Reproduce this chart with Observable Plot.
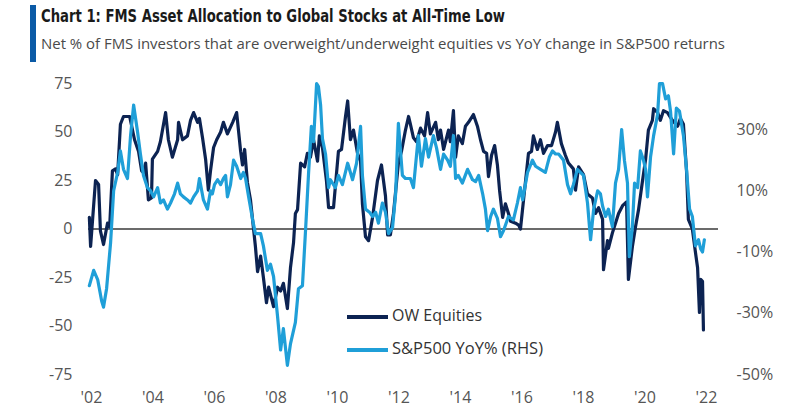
<!DOCTYPE html>
<html>
<head>
<meta charset="utf-8">
<script src="https://cdn.jsdelivr.net/npm/d3@7"></script>
<script src="https://cdn.jsdelivr.net/npm/@observablehq/plot@0.6"></script>
<style>
  body { margin: 0; background: #fff; }
  #wrap { position: relative; width: 793px; height: 415px; overflow: hidden; font-family: "Open Sans", sans-serif; }
  #head { position: relative; height: 62px; }
  #bar { position: absolute; left: 30px; top: 5px; width: 6px; height: 57px; background: #0b5aa6; }
  #title { position: absolute; left: 41px; top: 6px; font-weight: bold; font-size: 17px; font-family: "Liberation Sans Narrow", "DejaVu Sans Condensed", sans-serif; color: #1a1a1a; white-space: nowrap; transform-origin: 0 0; line-height: 20px; }
  #subtitle { position: absolute; left: 41px; top: 33px; font-size: 15px; font-family: "Open Sans", sans-serif; color: #4a4a4a; white-space: nowrap; transform-origin: 0 0; line-height: 20px; }
  .legline { position: absolute; height: 4px; width: 41px; left: 347px; }
  .legtext { position: absolute; left: 392px; font-size: 17px; font-family: "Open Sans", sans-serif; color: #333; white-space: nowrap; transform-origin: 0 0; line-height: 20px; }
  svg { display: block; }
</style>
</head>
<body>
<div id="wrap">
  <div id="head">
    <div id="bar"></div>
    <div id="title">Chart 1: FMS Asset Allocation to Global Stocks at All-Time Low</div>
    <div id="subtitle">Net % of FMS investors that are overweight/underweight equities vs YoY change in S&amp;P500 returns</div>
  </div>
  <div id="chart"></div>
  <div class="legline" id="leg1" style="top:315px;"></div>
  <div class="legtext" id="legt1" style="top:305px;">OW Equities</div>
  <div class="legline" id="leg2" style="top:348px;"></div>
  <div class="legtext" id="legt2" style="top:338px;">S&amp;P500 YoY% (RHS)</div>
</div>
<script>
// ---- data (decimal year as placed on the chart's x axis, value) ----
const owEquities = [
  [2001.93,6],[2001.97,-9],[2002.13,25],[2002.23,23],[2002.29,-1],[2002.39,-8],[2002.52,3],[2002.59,1],
  [2002.68,30],[2002.78,31],[2002.85,28],[2002.94,54],[2003.04,58],[2003.24,58],[2003.40,46],[2003.53,40],
  [2003.63,30],[2003.69,29],[2003.76,34],[2003.85,15],[2003.95,16],[2003.98,36],[2004.15,40],[2004.24,45],
  [2004.41,60],[2004.50,46],[2004.63,37],[2004.80,46],[2004.83,55],[2004.96,46],[2005.12,48],[2005.22,56],
  [2005.32,60],[2005.45,55],[2005.51,57],[2005.61,47],[2005.71,36],[2005.80,20],[2005.87,30],[2005.97,42],
  [2006.07,46],[2006.20,50],[2006.29,55],[2006.42,49],[2006.59,55],[2006.72,60],[2006.85,40],[2006.91,33],
  [2006.98,41],[2007.07,24],[2007.17,15],[2007.27,0],[2007.33,-9],[2007.40,-22],[2007.50,-14],[2007.59,-25],
  [2007.69,-38],[2007.76,-30],[2007.92,-40],[2008.05,-30],[2008.15,-32],[2008.24,-28],[2008.37,-41],[2008.47,-20],
  [2008.57,-7],[2008.63,8],[2008.70,10],[2008.80,34],[2008.93,32],[2009.02,39],[2009.12,37],[2009.22,46],
  [2009.35,35],[2009.41,48],[2009.51,42],[2009.64,25],[2009.71,11],[2009.87,11],[2010.03,40],[2010.13,41],
  [2010.26,58],[2010.33,66],[2010.42,46],[2010.52,51],[2010.65,39],[2010.75,35],[2010.81,13],[2010.91,-4],
  [2011.01,-6],[2011.14,6],[2011.30,25],[2011.43,33],[2011.56,17],[2011.63,-3],[2011.72,-3],[2011.82,8],
  [2011.98,34],[2012.08,40],[2012.21,51],[2012.31,58],[2012.37,54],[2012.47,47],[2012.57,45],[2012.70,52],
  [2012.83,48],[2012.93,60],[2013.02,49],[2013.19,55],[2013.28,46],[2013.35,51],[2013.45,41],[2013.61,51],
  [2013.67,45],[2013.77,61],[2013.84,37],[2013.93,48],[2014.06,44],[2014.16,53],[2014.26,55],[2014.42,59],
  [2014.55,53],[2014.65,46],[2014.75,40],[2014.85,39],[2014.91,27],[2015.01,38],[2015.11,43],[2015.20,33],
  [2015.27,20],[2015.37,6],[2015.46,13],[2015.56,8],[2015.63,4],[2015.79,3],[2015.89,2],[2015.95,0],
  [2016.05,15],[2016.21,39],[2016.31,40],[2016.37,48],[2016.50,41],[2016.60,46],[2016.70,39],[2016.83,43],
  [2016.96,43],[2017.09,50],[2017.15,55],[2017.28,44],[2017.41,38],[2017.51,34],[2017.67,31],[2017.74,20],
  [2017.84,32],[2018.00,28],[2018.13,18],[2018.29,16],[2018.39,8],[2018.49,11],[2018.62,5],[2018.65,-21],
  [2018.78,-6],[2018.81,-10],[2018.94,-2],[2019.04,3],[2019.14,8],[2019.27,12],[2019.40,14],[2019.46,-26],
  [2019.59,-9],[2019.69,1],[2019.79,10],[2019.92,25],[2020.02,36],[2020.11,51],[2020.24,56],[2020.28,62],
  [2020.41,60],[2020.50,56],[2020.60,61],[2020.73,60],[2020.89,56],[2021.06,53],[2021.15,57],[2021.25,54],
  [2021.35,30],[2021.41,5],[2021.54,0],[2021.64,-12],[2021.71,-20],[2021.77,-43],[2021.81,-26],[2021.87,-27],
  [2021.90,-52]
];

const sp500YoY = [
  [2001.93,-21],[2002.07,-16],[2002.20,-19],[2002.33,-26],[2002.39,-28],[2002.49,-22],[2002.62,-7],[2002.72,10],
  [2002.85,16],[2002.94,23],[2003.04,17],[2003.17,14],[2003.27,28],[2003.37,38],[2003.50,29],[2003.59,22],
  [2003.69,15],[2003.82,11],[2003.92,10],[2004.02,8],[2004.15,11],[2004.24,6],[2004.34,7],[2004.47,4],
  [2004.57,6],[2004.70,9],[2004.80,12.5],[2004.89,9],[2004.99,8],[2005.12,7],[2005.22,6],[2005.32,8],
  [2005.45,10],[2005.51,14],[2005.64,7],[2005.77,4],[2005.87,10],[2005.93,9],[2006.00,12],[2006.10,13.6],
  [2006.20,12],[2006.29,14],[2006.36,15],[2006.42,8],[2006.52,12],[2006.62,20],[2006.72,18],[2006.85,14],
  [2006.94,16],[2007.01,14],[2007.11,8],[2007.24,0.5],[2007.33,-4],[2007.50,-4],[2007.59,-8],[2007.72,-16],
  [2007.82,-14],[2007.92,-18],[2008.05,-31],[2008.15,-42],[2008.24,-35],[2008.37,-47],[2008.47,-40],[2008.63,-33],
  [2008.73,-22],[2008.86,-21],[2008.96,-3],[2009.06,16],[2009.15,31],[2009.22,26],[2009.32,45],[2009.38,44],
  [2009.45,38],[2009.51,27],[2009.61,22],[2009.71,11],[2009.77,13.6],[2009.93,11],[2010.03,15],[2010.16,12],
  [2010.33,19],[2010.49,13.6],[2010.62,19],[2010.75,31],[2010.81,15],[2010.91,4],[2011.04,3],[2011.14,1.6],
  [2011.24,3],[2011.33,-0.6],[2011.46,6],[2011.56,3],[2011.66,-4],[2011.79,-2],[2011.89,9],[2011.98,32],
  [2012.11,15],[2012.21,14],[2012.37,14],[2012.47,11],[2012.63,28],[2012.73,18],[2012.86,27],[2012.96,21],
  [2013.12,28],[2013.22,24],[2013.35,17],[2013.45,22],[2013.58,20],[2013.67,18],[2013.77,28],[2013.84,14],
  [2013.93,15],[2014.06,12.5],[2014.23,17],[2014.39,13.6],[2014.49,13],[2014.59,15],[2014.72,9],[2014.81,4],
  [2014.88,-3],[2014.98,1.6],[2015.07,4],[2015.20,1],[2015.30,-5],[2015.40,-3],[2015.56,1.6],[2015.72,0.5],
  [2015.85,6],[2015.95,11],[2016.02,7],[2016.18,16],[2016.34,20],[2016.44,18],[2016.60,17],[2016.76,16],
  [2016.89,21],[2016.99,23],[2017.09,22],[2017.19,22],[2017.35,20],[2017.48,12],[2017.58,9],[2017.67,12],
  [2017.80,17],[2017.90,16],[2018.00,15],[2018.13,6],[2018.23,-6],[2018.33,4],[2018.46,10],[2018.55,9],
  [2018.62,5],[2018.72,1.6],[2018.81,4],[2018.94,-1.7],[2019.04,12.5],[2019.14,17],[2019.24,30],[2019.33,20],
  [2019.43,12.5],[2019.49,-11.5],[2019.59,-1.7],[2019.66,12.5],[2019.76,11],[2019.85,23],[2019.95,20],[2020.02,17],
  [2020.08,8],[2020.18,21],[2020.28,28],[2020.41,35],[2020.47,45],[2020.57,45],[2020.67,40],[2020.76,41],
  [2020.83,36],[2020.93,22],[2021.02,37],[2021.12,36],[2021.25,28],[2021.35,17],[2021.45,4],[2021.54,1.6],
  [2021.64,-8],[2021.74,-6],[2021.81,-9],[2021.87,-10],[2021.93,-6]
];

const leftTicks = [-75, -50, -25, 0, 25, 50, 75];
const rightTicks = [-50, -30, -10, 10, 30];
const yearTicks = [2002, 2004, 2006, 2008, 2010, 2012, 2014, 2016, 2018, 2020, 2022];
const seriesNames = ["OW Equities", "S&P500 YoY% (RHS)"];
const colors = ["#0c2352", "#1f9fd8"];

// right-hand scale (%) expressed on the left-hand scale
const rhsSlope = 1.5786;
const toLeft = r => -75 + (r + 50) * rhsSlope;
const fromLeft = v => (v + 75) / rhsSlope - 50;

const chart = Plot.plot({
  width: 793,
  height: 353,
  marginLeft: 88,
  marginRight: 75,
  marginTop: 21,
  marginBottom: 41,
  x: { domain: [2001.902, 2022.39] },
  y: { domain: [-75, 75] },
  style: { fontFamily: "'Open Sans', sans-serif", fontSize: "16px", color: "#555", background: "transparent" },
  marks: [
    Plot.axisY({ ticks: leftTicks, tickSize: 0, tickPadding: 16, label: null, anchor: "left", tickFormat: d => String(d) }),
    Plot.axisY({ ticks: rightTicks.map(toLeft), tickSize: 0, tickPadding: 18, label: null, anchor: "right",
                 tickFormat: v => `${Math.round(fromLeft(v))}%` }),
    Plot.axisX({ ticks: yearTicks, tickSize: 0, tickPadding: 17, label: null,
                 tickFormat: d => "'" + String(d).slice(2) }),
    Plot.ruleY([0], { stroke: "#6b6b6b", strokeWidth: 1.8 }),
    Plot.line(owEquities, { x: d => d[0], y: d => d[1], stroke: colors[0], strokeWidth: 3.2, strokeLinejoin: "round" }),
    Plot.line(sp500YoY, { x: d => d[0], y: d => toLeft(d[1]), stroke: colors[1], strokeWidth: 3.2, strokeLinejoin: "round" })
  ]
});
document.getElementById("chart").appendChild(chart);

document.getElementById("leg1").style.background = colors[0];
document.getElementById("leg2").style.background = colors[1];
document.getElementById("legt1").textContent = seriesNames[0];
document.getElementById("legt2").textContent = seriesNames[1];

function fitWidth(id, target) {
  const el = document.getElementById(id);
  const w = el.getBoundingClientRect().width;
  if (w > 0) el.style.transform = `scaleX(${target / w})`;
}
fitWidth("title", 464);
fitWidth("subtitle", 684);
fitWidth("legt1", 90);
fitWidth("legt2", 151);
</script>
</body>
</html>
